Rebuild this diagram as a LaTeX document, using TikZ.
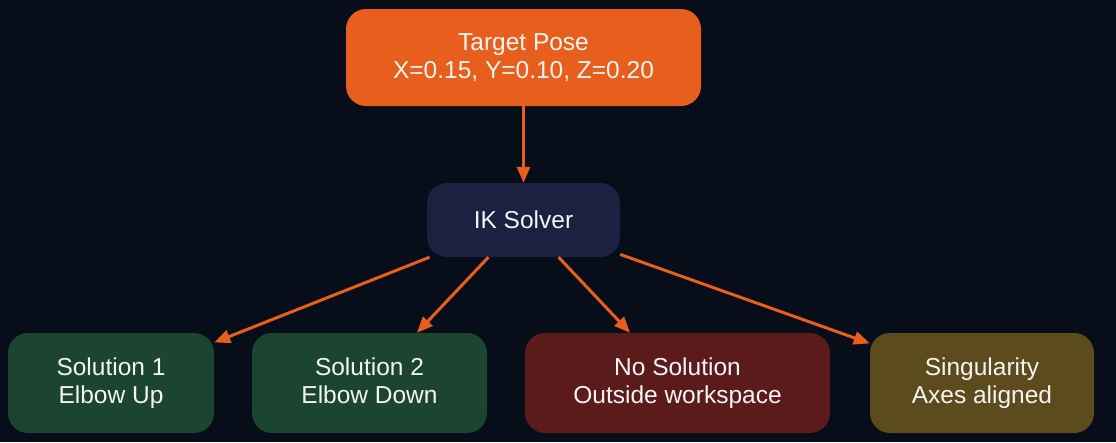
\documentclass[tikz,border=0pt]{standalone}
\usepackage{fontspec}
\setmainfont{Liberation Sans}
\usepackage{tikz}
\usetikzlibrary{arrows.meta, positioning}
\definecolor{bgdark}{HTML}{080D1A}
\definecolor{poseorange}{HTML}{E85E1C}
\definecolor{solvernavy}{HTML}{1B2140}
\definecolor{solgreen}{HTML}{1B4530}
\definecolor{failred}{HTML}{5C1B1B}
\definecolor{singolive}{HTML}{5C4B1C}
\definecolor{textwhite}{HTML}{F4F4F4}

\begin{document}
\begin{tikzpicture}[
  x=1pt, y=-1pt,
  box/.style = {
    rectangle, rounded corners=20pt,
    minimum height=100pt, inner sep=0pt,
    align=center, text=textwhite,
    font=\fontsize{24.5}{28}\selectfont
  },
  outcome/.style = {box, minimum width=#1, execute at end node={\vphantom{p}}},
  arr/.style = {-{Triangle[length=16pt, width=13pt]}, line width=3pt, color=poseorange}
]
  \path[fill=bgdark] (0,0) rectangle (1116,442);

  \node[box, fill=poseorange, minimum width=355pt, minimum height=97pt] (pose) at (523.5,57.5)
    {Target Pose\\X=0.15, Y=0.10, Z=0.20};
  \node[box, fill=solvernavy, minimum width=193pt, minimum height=74pt] (ik) at (523.5,220)
    {IK Solver};

  \node[outcome=206pt, fill=solgreen]  (sol1) at (111,383)   {Solution 1\\Elbow Up};
  \node[outcome=235pt, fill=solgreen]  (sol2) at (369.5,383) {Solution 2\\Elbow Down};
  \node[outcome=305pt, fill=failred]   (nosol) at (677.5,383) {No Solution\\Outside workspace};
  \node[outcome=224pt, fill=singolive] (sing) at (982,383)   {Singularity\\Axes aligned};

  \draw[arr] (pose) -- (ik);
  \draw[arr] (ik) -- (sol1);
  \draw[arr] (ik) -- (sol2);
  \draw[arr] (ik) -- (nosol);
  \draw[arr] (ik) -- (sing);
\end{tikzpicture}
\end{document}
